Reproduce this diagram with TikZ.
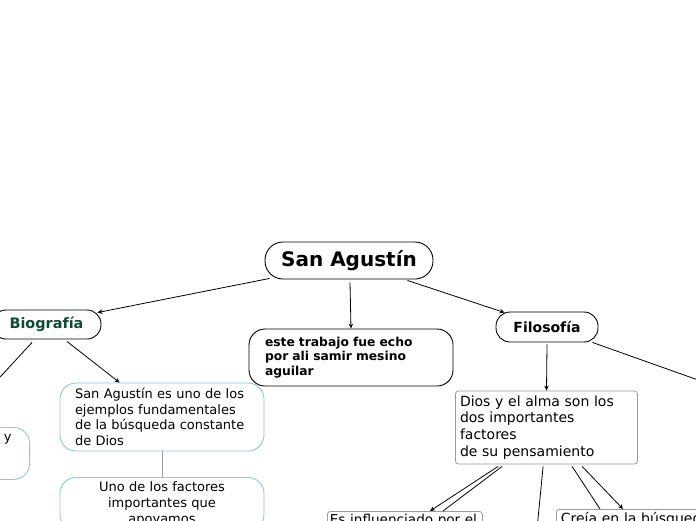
\documentclass[tikz,border=0pt]{standalone}
\usepackage{fontspec}
\setmainfont{DejaVu Sans}
\usepackage{tikz}
\usepackage{xcolor}
\usetikzlibrary{arrows.meta,positioning,calc}
\definecolor{cG}{HTML}{0B4A36}
\definecolor{cS}{HTML}{8EC5E0}
\definecolor{cR}{HTML}{9A9A9A}
\tikzset{
  root/.style={draw,line width=.9pt,rounded corners=18pt,minimum width=168pt,
               minimum height=37pt,font=\fontsize{20pt}{24pt}\selectfont\bfseries},
  topic/.style={draw,line width=.9pt,rounded corners=14pt,inner sep=0pt,
               font=\fontsize{14.4pt}{17pt}\selectfont\bfseries},
  memo/.style={draw,line width=.9pt,rounded corners=16pt,align=left,
               inner xsep=16pt,font=\fontsize{12.3pt}{14.8pt}\selectfont\bfseries},
  sky/.style={draw=cS,line width=.9pt,rounded corners=16pt,inner xsep=15pt,
              inner ysep=3pt,font=\fontsize{13pt}{15.6pt}\selectfont},
  card/.style={draw=cR,line width=.8pt,rounded corners=3pt,align=left,
               inner xsep=4.5pt,inner ysep=3pt,font=\fontsize{14pt}{16.8pt}\selectfont},
  link/.style={-{Stealth[length=5pt,width=4.5pt]},line width=.8pt},
  bare/.style={line width=.8pt},
}

\begin{document}
\begin{tikzpicture}[x=1pt,y=-1pt]
  \useasboundingbox (0,0) rectangle (696,520);
  \clip (0,0) rectangle (696,520);
  \node[root] (agustin) at (349,260.5){San Agustín};
  \node[topic,text=cG,minimum width=109pt,minimum height=29pt] (bio) at (46.5,324.5){Biografía};
  \node[memo,text width=172pt,minimum height=57pt] (trabajo) at (351,357.5){este trabajo fue echo\\por ali samir mesino\\aguilar};
  \node[topic,font=\fontsize{14pt}{17pt}\selectfont\bfseries,minimum width=102pt,minimum height=30pt] (filo) at (547,327){Filosofía};
  \node[sky,align=left,text width=174pt,minimum height=68pt] (ejemplo) at (162,417){San Agustín es uno de los\\ejemplos fundamentales\\de la búsqueda constante\\de Dios};
  \node[sky,align=right,text width=167pt,inner xsep=18pt,minimum height=52pt,anchor=north east] (vida) at (30,427){y\\~\\~};
  \node[sky,align=center,text width=174pt,inner ysep=4.5pt,anchor=north] (factores) at (162,477){Uno de los factores\\importantes que\\apoyamos};
  \node[card,text width=150pt,inner xsep=2.5pt,font=\fontsize{13.6pt}{16.3pt}\selectfont,anchor=north west] (influjo) at (327,511){Es influenciado por el};
  \node[card,text width=173pt,minimum height=73pt] (dios) at (546.5,427.5){Dios y el alma son los\\dos importantes\\factores\\de su pensamiento};
  \node[card,text width=170pt,anchor=north west] (busqueda) at (556,509){Creía en la búsqueda};
  \coordinate (haciader) at (760,402);
  \coordinate (haciaaba) at (534,560);
  \draw[link] ($(agustin.south west)+(5,-1)$)--($(bio.north east)+(-4,3)$);
  \draw[link] ($(agustin.south)+(1,3)$)--(trabajo.north);
  \draw[link] ($(agustin.south east)+(-26,1)$)--($(filo.north west)+(9,1)$);
  \draw[bare] ($(filo.south east)+(-6,0)$)--(haciader);
  \draw[link] ($(filo.south)+(0,2)$)--(dios.north);
  \draw[link] ($(bio.south)+(-14.5,3)$)--($(vida.north east)+(-76,0)$);
  \draw[link] ($(bio.south)+(20.5,2)$)--($(ejemplo.north west)+(60,0)$);
  \draw[bare,cR] (ejemplo.south)--(factores.north);
  \draw[link] ($(dios.south west)+(43,2)$)--($(influjo.north west)+(103,0)$);
  \draw[bare] ($(dios.south west)+(47,2)$)--($(influjo.north west)+(116,0)$);
  \draw[bare] ($(dios.south west)+(88,2)$)--(haciaaba);
  \draw[bare] ($(dios.south west)+(117,2)$)--($(busqueda.north west)+(44,0)$);
  \draw[link] ($(dios.south west)+(127,2)$)--($(busqueda.north west)+(67,0)$);
\end{tikzpicture}
\end{document}
